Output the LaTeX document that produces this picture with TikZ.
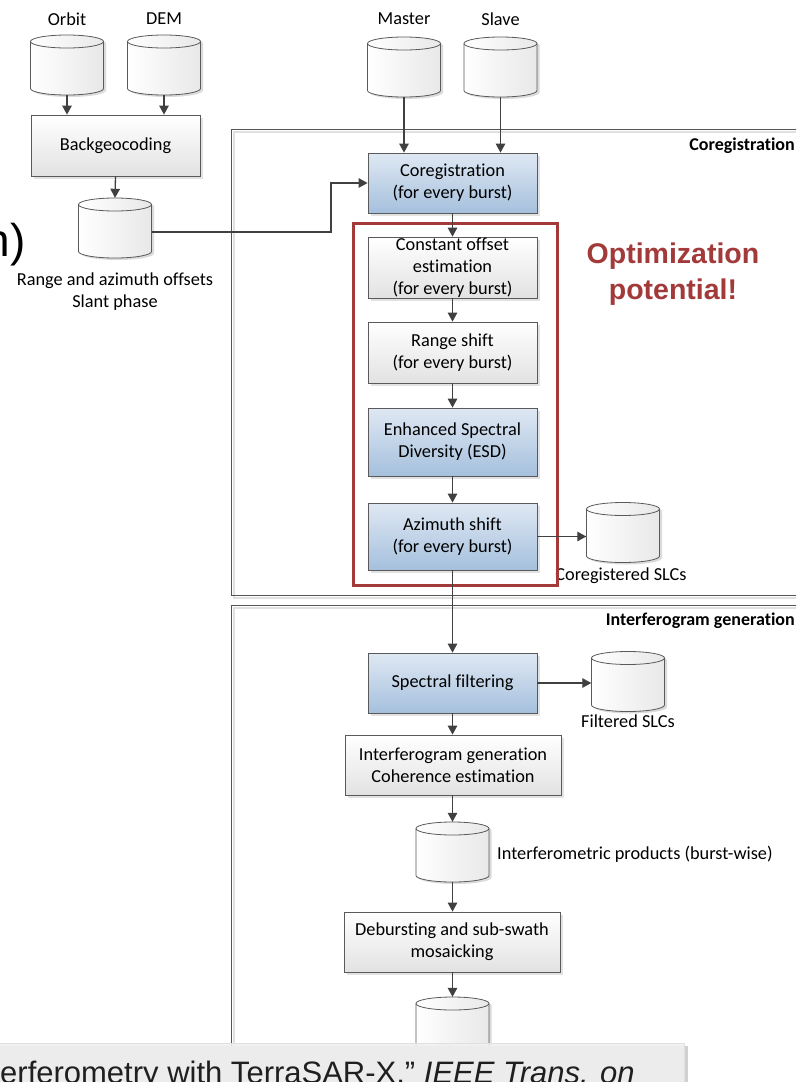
\documentclass[tikz,border=0pt]{standalone}
\usepackage{fontspec}
\setmainfont{Carlito}[Ligatures=NoCommon]
\newfontfamily\arialfont{Liberation Sans}
\usetikzlibrary{arrows.meta,shadows}

\definecolor{boxline}{HTML}{5A5A5A}
\definecolor{linkgray}{HTML}{404040}
\definecolor{greybot}{HTML}{E2E2E2}
\definecolor{bluetop}{HTML}{DFE8F3}
\definecolor{bluebot}{HTML}{A5C0DD}
\definecolor{hilite}{HTML}{A23A3A}
\definecolor{panelline}{HTML}{555555}
\definecolor{panelshade}{HTML}{E0E0E0}

\tikzset{
  stepbox/.style={draw=boxline, line width=0.8pt, minimum width=169pt,
    minimum height=60pt, inner sep=0pt, align=center,
    top color=white, bottom color=greybot,
    drop shadow={shadow xshift=2.5pt, shadow yshift=-2.5pt, fill=black!22}},
  bluebox/.style={stepbox, top color=bluetop, bottom color=bluebot},
  dbnode/.style={minimum width=73pt, minimum height=60pt, inner sep=0pt},
  dbline/.style={draw=boxline, line width=0.8pt},
  flow/.style={draw=linkgray, line width=1.3pt,
    -{Triangle[length=9pt,width=9.5pt]}},
  panel/.style={draw=panelline, line width=0.9pt},
  panelsh/.style={draw=panelshade, line width=2pt},
  lbl/.style={inner sep=0pt, align=center},
}

% database symbol: node name, centre
\newcommand\dbcyl[2]{%
  \node[dbnode] (#1) at (#2) {};
  \fill[black!14, xshift=2.5pt, yshift=-2pt] (#2) ++(-36.5,-23.5) -- ++(0,47)
    arc[start angle=180, end angle=360, x radius=36.5pt, y radius=6.5pt]
    -- ++(0,-47)
    arc[start angle=0, end angle=180, x radius=36.5pt, y radius=6.5pt] -- cycle;
  \shade[left color=white, right color=black!9, dbline] (#2) ++(-36.5,-23.5) -- ++(0,47)
    arc[start angle=180, end angle=360, x radius=36.5pt, y radius=6.5pt]
    -- ++(0,-47)
    arc[start angle=0, end angle=180, x radius=36.5pt, y radius=6.5pt] -- cycle;
  \draw[dbline] (#2) ++(-36.5,-23.5)
    arc[start angle=180, end angle=360, x radius=36.5pt, y radius=6.5pt];
}

\begin{document}
\begin{tikzpicture}[x=1pt, y=-1pt, font=\fontsize{18.3}{22}\selectfont]
\useasboundingbox (0,0) rectangle (796,1082);
\clip (0,0) rectangle (796,1082);
\fill[white] (0,0) rectangle (796,1082);

% title fragment on the left
\node[anchor=base east, inner sep=0pt, font=\arialfont\fontsize{46}{50}\selectfont] (frag) at (26,256) {n)};

% processing panels
\draw[panelsh] (233.5,132) rectangle (810,598);
\draw[panel] (231,129.5) rectangle (810,595.5);
\draw[panelsh] (233.5,608) rectangle (810,1100);
\draw[panel] (231,605.5) rectangle (810,1100);
\node[anchor=base east, inner sep=0pt, font=\bfseries\fontsize{18}{21}\selectfont] (tcoreg) at (795,150) {Coregistration};
\node[anchor=base east, inner sep=0pt, font=\bfseries\fontsize{18}{21}\selectfont] (tifg) at (795,625) {Interferogram generation};

% inputs
\dbcyl{orbit}{67,65}
\dbcyl{dem}{164,65}
\dbcyl{master}{404,67}
\dbcyl{slave}{500.5,67}
\node[lbl] (lorbit) at (67,19) {Orbit};
\node[lbl] (ldem) at (164,19) {DEM};
\node[lbl] (lmaster) at (404,19) {Master};
\node[lbl] (lslave) at (500.5,19) {Slave};

% backgeocoding branch
\node[stepbox, minimum height=61pt] (bgc) at (115.5,145.5) {Backgeocoding};
\dbcyl{offs}{115,228}
\node[lbl] (loffs) at (115,292) {Range and azimuth offsets\\Slant phase};

% coregistration chain
\node[bluebox] (coreg) at (452.5,183) {Coregistration\\(for every burst)};
\node[stepbox, minimum height=61pt] (cofs) at (452.5,267.5) {Constant offset\\estimation\\(for every burst)};
\node[stepbox, minimum height=61pt] (rshift) at (452.5,352.5) {Range shift\\(for every burst)};
\node[bluebox, minimum height=68pt] (esd) at (452.5,442) {Enhanced Spectral\\Diversity (ESD)};
\node[bluebox, minimum height=67pt] (azim) at (452.5,536.5) {Azimuth shift\\(for every burst)};
\dbcyl{cslc}{623,532.5}
\node[lbl] (lcslc) at (621,576) {Coregistered SLCs};

% highlighted part of the chain
\draw[hilite, line width=3pt] (353,223) rectangle (557,585);
\node[lbl, text=hilite, font=\arialfont\bfseries\fontsize{28.5}{36}\selectfont] (optim) at (673,274) {Optimization\\potential!};

% interferogram generation chain
\node[bluebox] (spec) at (452.5,683) {Spectral filtering};
\dbcyl{fslc}{628,681.5}
\node[lbl] (lfslc) at (628,721) {Filtered SLCs};
\node[stepbox, minimum width=216pt] (ifg) at (453,765) {Interferogram generation\\Coherence estimation};
\dbcyl{iprod}{452.5,852}
\node[lbl, anchor=west] (liprod) at (497,854) {Interferometric products (burst-wise)};
\node[stepbox, minimum width=216pt] (deb) at (452,942) {Debursting and sub-swath\\mosaicking};
\dbcyl{mprod}{452.5,1027}
\node[lbl, text=black!35] (lmprod) at (452,1072) {Mosaicked interferometric products};

% connectors
\draw[flow] (orbit.south) -- (orbit.south |- bgc.north);
\draw[flow] (dem.south) -- (dem.south |- bgc.north);
\draw[flow] (bgc.south) -- (offs.north);
\coordinate (bend) at (331,232);
\draw[flow] (offs.east |- bend) -- (bend) |- (coreg.west);
\draw[flow] (master.south) -- (master.south |- coreg.north);
\draw[flow] (slave.south) -- (slave.south |- coreg.north);
\draw[flow] (coreg.south) -- (cofs.north);
\draw[flow] (cofs.south) -- (rshift.north);
\draw[flow] (rshift.south) -- (esd.north);
\draw[flow] (esd.south) -- (azim.north);
\draw[flow] (azim.east) -- (azim.east -| cslc.west);
\draw[flow] (azim.south) -- (spec.north);
\draw[flow] (spec.east) -- (spec.east -| fslc.west);
\draw[flow] (spec.south) -- (spec.south |- ifg.north);
\draw[flow] (ifg.south -| iprod.north) -- (iprod.north);
\draw[flow] (iprod.south) -- (iprod.south |- deb.north);
\draw[flow] (deb.south -| mprod.north) -- (mprod.north);

% reference tooltip along the bottom edge
\fill[black!18] (0,1046) rectangle (688,1095);
\path[fill=black!6, fill opacity=0.88, draw=black!12, line width=0.8pt] (-2,1043) rectangle (684,1095);
\node[anchor=base west, inner sep=0pt, text=black!88, font=\arialfont\fontsize{31}{34}\selectfont] (cite) at (0,1083) {erferometry with TerraSAR-X,\char"201D{} \itshape IEEE Trans. on};
\end{tikzpicture}
\end{document}
